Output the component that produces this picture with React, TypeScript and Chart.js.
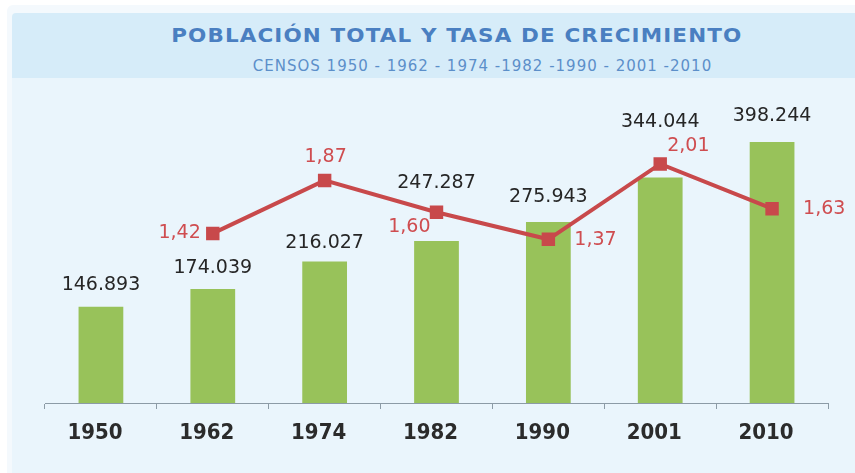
import React, { useEffect, useRef } from 'react';
import { Chart, registerables } from 'chart.js';

Chart.register(...registerables);

const years = ['1950', '1962', '1974', '1982', '1990', '2001', '2010'];
const population = [146893, 174039, 216027, 247287, 275943, 344044, 398244];
const growthRate: (number | null)[] = [null, 1.42, 1.87, 1.6, 1.37, 2.01, 1.63];

const titleText = 'POBLACIÓN TOTAL Y TASA DE CRECIMIENTO';
const subtitleText = 'CENSOS 1950 - 1962 - 1974 -1982 -1990 - 2001 -2010';

// label styling: pixel lift of each population label above its bar top
const barLabelLift = [22, 21, 18, 58, 25, 55, 26];
// placement of each growth-rate label relative to its point
const ratePlacement: ({ dx: number; dy: number; align: CanvasTextAlign } | null)[] = [
  null,
  { dx: -12, dy: 0, align: 'right' },
  { dx: 1, dy: -23, align: 'center' },
  { dx: -6, dy: 15, align: 'right' },
  { dx: 26, dy: 1, align: 'left' },
  { dx: 7, dy: -18, align: 'left' },
  { dx: 31, dy: 0, align: 'left' },
];

const fmtThousands = (n: number) => String(n).replace(/\B(?=(\d{3})+(?!\d))/g, '.');
const fmtRate = (v: number) => v.toFixed(2).replace('.', ',');

const labelFont = '19px "DejaVu Sans", sans-serif';

const labelPlugin = {
  id: 'valueLabels',
  afterDatasetsDraw(chart: any) {
    const ctx = chart.ctx as CanvasRenderingContext2D;
    const barMeta = chart.getDatasetMeta(0);
    const lineMeta = chart.getDatasetMeta(1);
    ctx.save();
    ctx.font = labelFont;
    ctx.textBaseline = 'middle';
    barMeta.data.forEach((el: any, i: number) => {
      ctx.fillStyle = '#262626';
      ctx.textAlign = 'center';
      ctx.fillText(fmtThousands(population[i]), el.x, el.y - barLabelLift[i]);
    });
    lineMeta.data.forEach((el: any, i: number) => {
      const v = growthRate[i];
      const p = ratePlacement[i];
      if (v == null || !p) return;
      ctx.fillStyle = '#cf4d50';
      ctx.textAlign = p.align;
      ctx.fillText(fmtRate(v), el.x + p.dx, el.y + p.dy);
    });
    ctx.restore();
  },
};

export default function App() {
  const canvasRef = useRef<HTMLCanvasElement | null>(null);

  useEffect(() => {
    document.body.style.margin = '0';
    const canvas = canvasRef.current;
    if (!canvas) return;
    const chart = new Chart(canvas, {
      type: 'bar',
      data: {
        labels: years,
        datasets: [
          {
            type: 'bar',
            label: 'Población',
            data: population,
            backgroundColor: '#98c25a',
            barPercentage: 0.4,
            categoryPercentage: 1,
            yAxisID: 'y',
            order: 1,
          },
          {
            type: 'line',
            label: 'Tasa de crecimiento',
            data: growthRate,
            borderColor: '#c8494b',
            backgroundColor: '#c8494b',
            borderWidth: 4,
            pointStyle: 'rect',
            pointRadius: 9.5,
            pointBorderWidth: 0,
            pointBackgroundColor: '#c8494b',
            tension: 0,
            yAxisID: 'y2',
            order: 0,
          } as any,
        ],
      },
      options: {
        responsive: false,
        animation: false,
        devicePixelRatio: 1,
        layout: { padding: { left: 45, right: 27, top: 108, bottom: 0 } },
        plugins: {
          legend: { display: false },
          title: { display: false },
          tooltip: { enabled: false },
        },
        scales: {
          x: {
            grid: {
              display: true,
              drawOnChartArea: false,
              drawTicks: true,
              tickLength: 6,
              color: '#8c9ba6',
              offset: true,
            },
            border: { display: true, color: '#8c9ba6', width: 1 },
            ticks: {
              color: '#2b2b2b',
              padding: 11,
              labelOffset: -6,
              font: { family: '"DejaVu Sans Condensed", "DejaVu Sans", sans-serif', size: 22, weight: 'bold' },
            },
            afterFit: (s: any) => {
              s.height = 70;
            },
          },
          y: { display: false, min: 0, max: 450000 },
          y2: { display: false, min: -0.02, max: 2.485, position: 'right' },
        },
      },
      plugins: [labelPlugin],
    });
    return () => chart.destroy();
  }, []);

  return (
    <div style={{ position: 'fixed', left: 0, top: 0, width: 855, height: 473, background: '#ffffff', overflow: 'hidden' }}>
      <div style={{ position: 'absolute', left: 7, top: 5, width: 848, height: 468, background: '#f4f9fd', borderTopLeftRadius: 6 }} />
      <div style={{ position: 'absolute', left: 12, top: 13, width: 843, height: 65, background: '#d6ecf9', borderTopLeftRadius: 4 }} />
      <div style={{ position: 'absolute', left: 12, top: 78, width: 843, height: 395, background: '#eaf5fc' }} />
      <div
        style={{
          position: 'absolute',
          left: 169,
          top: 26,
          width: 576,
          textAlign: 'center',
          whiteSpace: 'nowrap',
          fontFamily: '"DejaVu Sans", sans-serif',
          fontWeight: 'bold',
          fontSize: 19,
          lineHeight: '19px',
          letterSpacing: 1,
          color: '#4a7fc1',
        }}
      >
        <span style={{ display: 'inline-block', transform: 'scaleX(1.13)', transformOrigin: 'center' }}>{titleText}</span>
      </div>
      <div
        style={{
          position: 'absolute',
          left: 251,
          top: 59,
          width: 463,
          textAlign: 'center',
          whiteSpace: 'nowrap',
          fontFamily: '"DejaVu Sans", sans-serif',
          fontSize: 15,
          lineHeight: '15px',
          letterSpacing: 1,
          color: '#5c8fc9',
        }}
      >
        {subtitleText}
      </div>
      <canvas ref={canvasRef} width={855} height={473} style={{ position: 'absolute', left: 0, top: 0, width: 855, height: 473 }} />
    </div>
  );
}
